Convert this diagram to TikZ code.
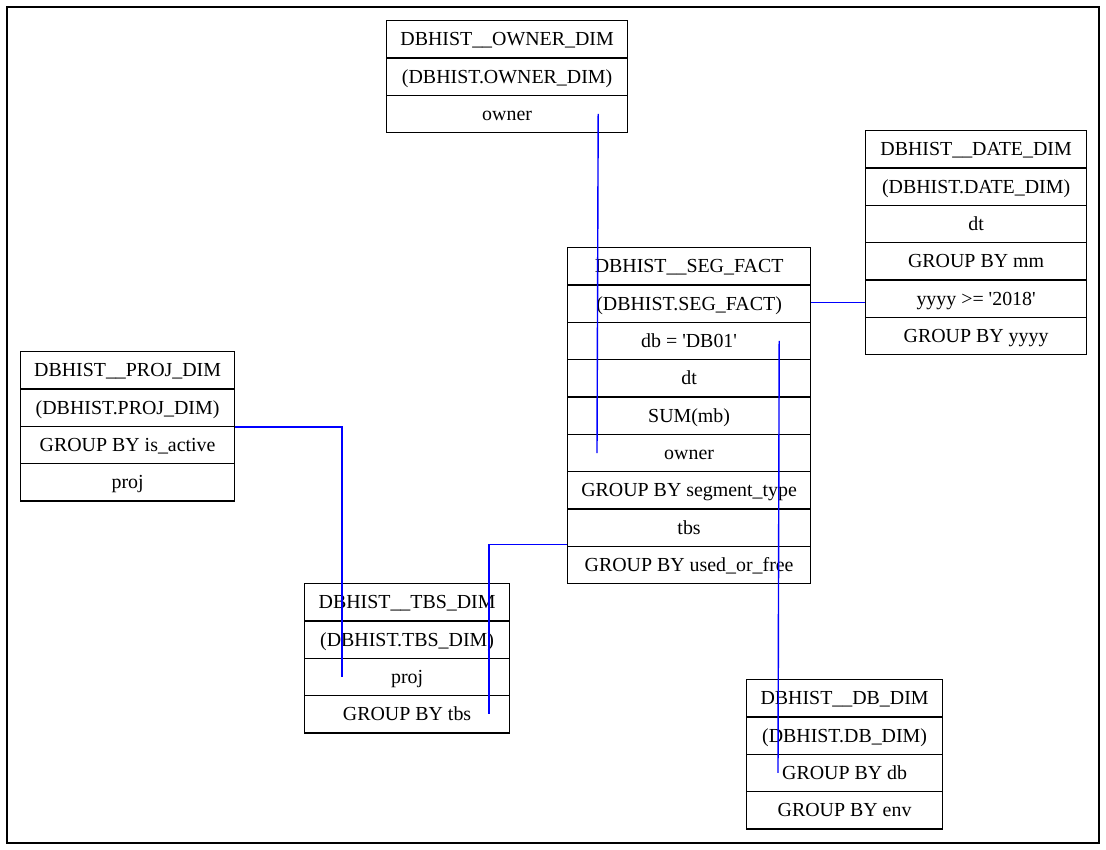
\documentclass[tikz,border=0pt]{standalone}
\usepackage{fontspec}
\setmainfont{Liberation Serif}[Ligatures=TeXOff]
\begin{document}
\begin{tikzpicture}[x=1pt,y=-1pt,
  cell/.style={draw=black, line width=1.2pt, minimum height=37.35pt, inner sep=0pt, text height=13.2pt, text depth=0pt, anchor=north west, font=\fontsize{19.9}{23}\selectfont},
  conn/.style={draw=blue, line width=1.4pt}]
\useasboundingbox (0,0) rectangle (1106,850);
\draw[line width=1.2pt] (7,7) rectangle (1099,843);
% OWNER
\begin{scope}[every node/.append style={cell, minimum width=241pt}]
\node (ow1) at (386,20) {DBHIST\_\_OWNER\_DIM};
\node (ow2) at (386,57.35) {(DBHIST.OWNER\_DIM)};
\node (ow3) at (386,94.7) {owner};
\end{scope}
% DATE
\begin{scope}[every node/.append style={cell, minimum width=221pt}]
\node (da1) at (865,130) {DBHIST\_\_DATE\_DIM};
\node (da2) at (865,167.35) {(DBHIST.DATE\_DIM)};
\node (da3) at (865,204.7) {dt};
\node (da4) at (865,242.05) {GROUP BY mm};
\node (da5) at (865,279.4) {yyyy >= '2018'};
\node (da6) at (865,316.75) {GROUP BY yyyy};
\end{scope}
% SEG
\begin{scope}[every node/.append style={cell, minimum width=243pt}]
\node (sg1) at (567,247) {DBHIST\_\_SEG\_FACT};
\node (sg2) at (567,284.35) {(DBHIST.SEG\_FACT)};
\node (sg3) at (567,321.7) {db = 'DB01'};
\node (sg4) at (567,359.05) {dt};
\node (sg5) at (567,396.4) {SUM(mb)};
\node (sg6) at (567,433.75) {owner};
\node (sg7) at (567,471.1) {GROUP BY segment\_type};
\node (sg8) at (567,508.45) {tbs};
\node (sg9) at (567,545.8) {GROUP BY used\_or\_free};
\end{scope}
% PROJ
\begin{scope}[every node/.append style={cell, minimum width=214pt}]
\node (pj1) at (20,351) {DBHIST\_\_PROJ\_DIM};
\node (pj2) at (20,388.35) {(DBHIST.PROJ\_DIM)};
\node (pj3) at (20,425.7) {GROUP BY is\_active};
\node (pj4) at (20,463.05) {proj};
\end{scope}
% TBS
\begin{scope}[every node/.append style={cell, minimum width=205pt}]
\node (tb1) at (304,583) {DBHIST\_\_TBS\_DIM};
\node (tb2) at (304,620.35) {(DBHIST.TBS\_DIM)};
\node (tb3) at (304,657.7) {proj};
\node (tb4) at (304,695.05) {GROUP BY tbs};
\end{scope}
% DB
\begin{scope}[every node/.append style={cell, minimum width=196pt}]
\node (db1) at (746,679) {DBHIST\_\_DB\_DIM};
\node (db2) at (746,716.35) {(DBHIST.DB\_DIM)};
\node (db3) at (746,753.7) {GROUP BY db};
\node (db4) at (746,791.05) {GROUP BY env};
\end{scope}
% connectors
\draw[conn] ([xshift=-30pt]ow3.east) -- ([xshift=30pt]sg6.west);
\draw[conn] ([yshift=1pt]sg2.east) -- ([yshift=1pt]sg2.east -| da5.west);
\draw[conn] ([xshift=-32pt]sg3.east) -- ([xshift=32pt]db3.west);
\draw[conn] (pj2.south east) -| ([xshift=38pt]tb3.west);
\draw[conn] ([yshift=2.5pt]sg8.south west) -| ([xshift=185pt]tb4.west);
\end{tikzpicture}
\end{document}
